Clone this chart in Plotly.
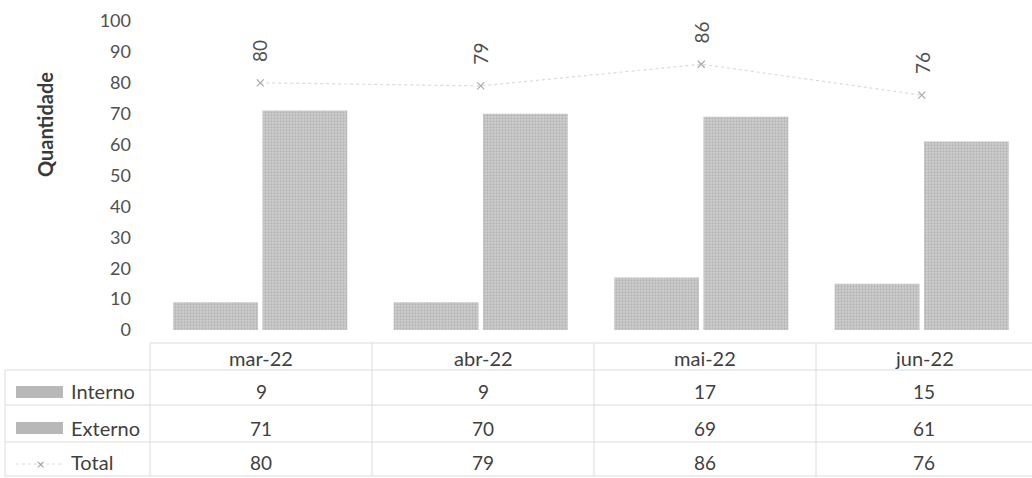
import plotly.graph_objects as go

categories = ["mar-22", "abr-22", "mai-22", "jun-22"]
interno = [9, 9, 17, 15]
externo = [71, 70, 69, 61]
total = [80, 79, 86, 76]
y_ticks = [0, 10, 20, 30, 40, 50, 60, 70, 80, 90, 100]
row_names = ["Interno", "Externo", "Total"]

W, H = 1032, 478
L, R, T, B = 150, 0, 21, 148
PW, PH = W - L - R, H - T - B

def px(x):
    return (x - L) / PW

def py(y):
    return (H - B - y) / PH

FONT = "Lato"
TXT = "#3f3f3f"
bar_pattern = dict(shape=".", bgcolor="#cfcfcf", fgcolor="#9a9a9a", size=3, solidity=0.45)

fig = go.Figure()
fig.add_bar(x=categories, y=interno, name="Interno",
            marker=dict(color="#c4c4c4", pattern=bar_pattern, line=dict(width=0)))
fig.add_bar(x=categories, y=externo, name="Externo",
            marker=dict(color="#c4c4c4", pattern=bar_pattern, line=dict(width=0)))
fig.add_scatter(x=categories, y=total, name="Total", mode="lines+markers",
                line=dict(color="#dadada", width=1.2, dash="dot"),
                marker=dict(symbol="x-thin-open", size=7, color="#a8a8a8",
                            line=dict(width=1.2, color="#a8a8a8")))

annotations = []
# rotated data labels for Total
for c, v in zip(categories, total):
    annotations.append(dict(x=c, y=v, xref="x", yref="y", text=str(v), showarrow=False,
                            xanchor="center", yanchor="middle",
                            textangle=-90, yshift=32, font=dict(family=FONT, size=19, color="#505050")))

# y-axis title
annotations.append(dict(x=px(45), y=py(125), xref="paper", yref="paper", text="<b>Quantidade</b>",
                        xanchor="center", yanchor="middle",
                        showarrow=False, textangle=-90, font=dict(family=FONT, size=20, color="#3a3a3a")))

# data table
col_edges = [150, 372, 594, 816, 1032]
row_y = [358, 391, 428, 462]
centers = [(col_edges[i] + col_edges[i + 1]) / 2 for i in range(4)]
for i, c in enumerate(categories):
    annotations.append(dict(x=px(centers[i]), y=py(row_y[0]), xref="paper", yref="paper", text=c,
                            xanchor="center", yanchor="middle",
                            showarrow=False, font=dict(family=FONT, size=20, color=TXT)))
for r, series in enumerate([interno, externo, total]):
    for i, v in enumerate(series):
        annotations.append(dict(x=px(centers[i]), y=py(row_y[r + 1]), xref="paper", yref="paper",
                                xanchor="center", yanchor="middle",
                                text=str(v), showarrow=False, font=dict(family=FONT, size=19, color=TXT)))
    annotations.append(dict(x=px(69), y=py(row_y[r + 1]), xref="paper", yref="paper",
                            xanchor="left", yanchor="middle",
                            text=row_names[r], showarrow=False, font=dict(family=FONT, size=20, color=TXT)))
# Total legend key marker
annotations.append(dict(x=px(40), y=py(464), xref="paper", yref="paper", xanchor="center",
                        yanchor="middle", text="×", showarrow=False,
                        font=dict(family="DejaVu Sans", size=11, color="#9a9a9a")))

shapes = []
LINE = dict(color="#dcdcdc", width=1)
h_lines = [(150, 343), (5, 370), (5, 405), (5, 442), (5, 476)]
for x0, y in h_lines:
    shapes.append(dict(type="line", xref="paper", yref="paper", x0=px(x0), x1=px(1032),
                       y0=py(y), y1=py(y), line=LINE))
for x in col_edges[:-1]:
    shapes.append(dict(type="line", xref="paper", yref="paper", x0=px(x), x1=px(x),
                       y0=py(343), y1=py(476), line=LINE))
shapes.append(dict(type="line", xref="paper", yref="paper", x0=px(5), x1=px(5),
                   y0=py(370), y1=py(476), line=LINE))
# legend keys
for yc in (392, 428):
    shapes.append(dict(type="rect", xref="paper", yref="paper", x0=px(16), x1=px(63),
                       y0=py(yc - 6), y1=py(yc + 6), fillcolor="#b8b8b8", line=dict(width=0)))
shapes.append(dict(type="line", xref="paper", yref="paper", x0=px(16), x1=px(63),
                   y0=py(464), y1=py(464), line=dict(color="#dadada", width=1, dash="dot")))

fig.update_layout(
    width=W, height=H,
    margin=dict(l=L, r=R, t=T, b=B),
    paper_bgcolor="white", plot_bgcolor="white",
    barmode="group", bargap=0.19, bargroupgap=0.05,
    showlegend=False,
    font=dict(family=FONT, color=TXT),
    xaxis=dict(showticklabels=False, showgrid=False, zeroline=False, showline=False,
               range=[-0.5, 3.5]),
    yaxis=dict(range=[0, 100], tickvals=y_ticks, showgrid=False, zeroline=False, showline=False,
               ticks="", ticklabelstandoff=18, tickfont=dict(family=FONT, size=18, color="#505050")),
    annotations=annotations,
    shapes=shapes,
)

fig.write_html("out.html", config={"displayModeBar": False},
               post_script="document.body.style.margin='0';document.body.style.padding='0';")
